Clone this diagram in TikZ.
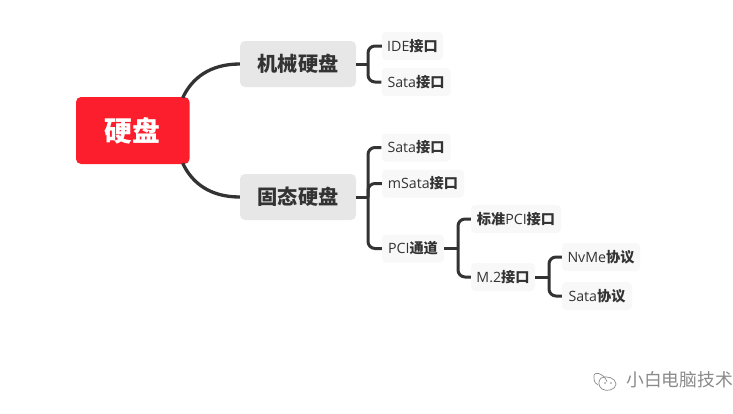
\documentclass[tikz,border=0pt]{standalone}
\usepackage{fontspec}
\setmainfont{Open Sans}
\newfontfamily\cjkf{Noto Sans CJK SC}
\newcommand{\cj}[1]{{\cjkf\bfseries #1}}
\usetikzlibrary{calc}
\definecolor{ink}{HTML}{333333}
\definecolor{leaffill}{HTML}{F8F8F8}
\definecolor{mainfill}{HTML}{E7E7E7}
\definecolor{rootred}{HTML}{FC1E2C}
\definecolor{wmark}{HTML}{8A8A8A}
\tikzset{
  boxn/.style={inner sep=0pt,rounded corners=4pt,font=\fontsize{14.2pt}{16pt}\selectfont,text=ink},
  leafn/.style={boxn,fill=leaffill},
  mainn/.style={inner sep=0pt,rounded corners=5pt,fill=mainfill,minimum width=116pt,minimum height=46pt,text=ink,font=\fontsize{20.2pt}{22pt}\selectfont},
  rootn/.style={inner sep=0pt,rounded corners=5pt,fill=rootred,minimum width=113.5pt,minimum height=67pt,text=white,font=\fontsize{27.8pt}{30pt}\selectfont},
  conn/.style={draw=ink,line width=3pt,rounded corners=7pt},
  curvec/.style={draw=ink,line width=3.3pt},
  wm/.style={draw=wmark,line width=0.7pt}
}
\newcommand{\leafat}[6]{\node[leafn,minimum width=#3pt,minimum height=#4pt] (#1) at (#2) {#5#6};}
\begin{document}
\begin{tikzpicture}[x=1pt,y=-1pt]
\useasboundingbox (0,0) rectangle (733,413);
\node[rootn] (root) at (132.75,130.5) {\cj{硬盘}};
\node[mainn] (mech) at (298,64) {\cj{机械硬盘}};
\node[mainn] (ssd) at (298,197) {\cj{固态硬盘}};
\leafat{ide}{412.5,46}{61}{28}{IDE}{\cj{接口}}
\leafat{sataA}{416,82}{69}{28}{Sata}{\cj{接口}}
\leafat{sataB}{416,147.5}{69}{28}{Sata}{\cj{接口}}
\leafat{msata}{423,183.5}{82}{28}{mSata}{\cj{接口}}
\leafat{pci}{413,248.5}{62}{28}{PCI}{\cj{通道}}
\leafat{std}{516,219}{90}{28}{\cj{标准}}{PCI\cj{接口}}
\leafat{mtwo}{503,277}{64}{28}{M.2}{\cj{接口}}
\leafat{nvme}{601,257}{78}{28}{NvMe}{\cj{协议}}
\leafat{sataC}{597,296}{70}{28}{Sata}{\cj{协议}}
\coordinate (t1) at (368,0);
\coordinate (t2) at (458,0);
\coordinate (t3) at (549,0);
\draw[curvec] ($(root.north east)+(-7,1)$) .. controls (192,78) and (210,64) .. (mech.west);
\draw[curvec] ($(root.south east)+(-7,-1)$) .. controls (192,183) and (210,197) .. (ssd.west);
\draw[conn] (ide.west) -- (ide.west -| t1) -- (sataA.west -| t1) -- (sataA.west);
\draw[conn] (mech.east) -- (mech.east -| t1);
\draw[conn] (sataB.west) -- (sataB.west -| t1) -- (pci.west -| t1) -- (pci.west);
\draw[conn] (ssd.east) -- (ssd.east -| t1);
\draw[conn] (msata.west) -- (msata.west -| t1) -- (ssd.east -| t1);
\draw[conn] (std.west) -- (std.west -| t2) -- (mtwo.west -| t2) -- (mtwo.west);
\draw[conn] (pci.east) -- (pci.east -| t2);
\draw[conn] (nvme.west) -- (nvme.west -| t3) -- (sataC.west -| t3) -- (sataC.west);
\draw[conn] (mtwo.east) -- (mtwo.east -| t3);
% watermark
\node[anchor=west,inner sep=0pt,text=wmark,font=\fontsize{17.8pt}{20pt}\selectfont\cjkf] (wtext) at (626,380) {小白电脑技术};
\draw[wm] (607,381.5) .. controls (604,373) and (592,370) .. (594,378) .. controls (594,382) and (596,384) .. (598,385);
\draw[wm] (601,378) .. controls (606,375) and (616,378) .. (616,384) .. controls (616,390) and (606,392) .. (602,389) .. controls (598,386) and (598,381) .. (601,378);
\fill[wmark] (605,383) circle (0.8) (611,383) circle (0.8);
\end{tikzpicture}
\end{document}
